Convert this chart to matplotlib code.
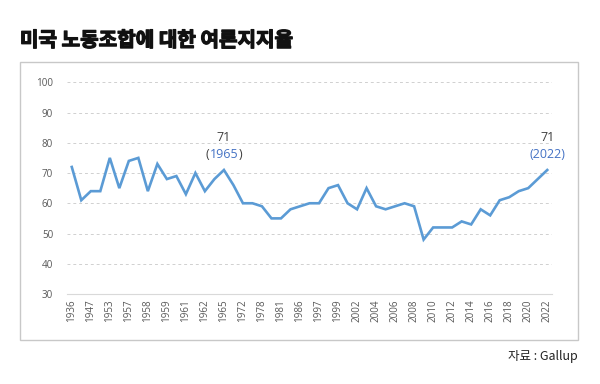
import matplotlib
matplotlib.use('Agg')

import matplotlib.pyplot as plt
import matplotlib.patheffects as pe
from matplotlib.patches import Rectangle

plt.rcParams['font.family'] = ['Noto Sans CJK KR', 'DejaVu Sans']

######################################################################
## DATA (Gallup, approval of labor unions)

# only every other year is labelled on the axis
years = [1936, 1941, 1947, 1949, 1953, 1957, 1957, 1957, 1958, 1959,
         1959, 1961, 1961, 1962, 1962, 1963, 1965, 1967, 1972, 1973,
         1978, 1979, 1981, 1985, 1986, 1991, 1997, 1999, 1999, 2001,
         2002, 2003, 2004, 2005, 2006, 2007, 2008, 2009, 2010, 2011,
         2012, 2013, 2014, 2015, 2016, 2017, 2018, 2019, 2020, 2021,
         2022]
approval = [72, 61, 64, 64, 75, 65, 74, 75, 64, 73,
            68, 69, 63, 70, 64, 68, 71, 66, 60, 60,
            59, 55, 55, 58, 59, 60, 60, 65, 66, 60,
            58, 65, 59, 58, 59, 60, 59, 48, 52, 52,
            52, 54, 53, 58, 56, 61, 62, 64, 65, 68,
            71]
yticks = [30, 40, 50, 60, 70, 80, 90, 100]

blue = '#5B9BD5'
label_blue = '#4472C4'
grey = '#595959'

######################################################################

fig = plt.figure(figsize=(6.0, 3.84), dpi=100)

# outer frame
fig.patches.append(Rectangle((0.0333, 0.1146), 0.93, 0.7239,
                             transform=fig.transFigure, fill=False,
                             edgecolor='#c8c8c8', linewidth=1.0))

ax = fig.add_axes([0.1117, 0.2344, 0.8083, 0.5513])

pos = list(range(len(years)))
ax.plot(pos, approval, color=blue, linewidth=1.9, solid_joinstyle='miter')

ax.set_xlim(-0.5, len(years) - 0.5)
ax.set_ylim(30, 100)
ax.set_yticks(yticks)
ax.set_xticks(pos[::2])
ax.set_xticklabels([str(y) for y in years[::2]], rotation=90)

for lab in ax.get_xticklabels() + ax.get_yticklabels():
    lab.set_family('Open Sans')
    lab.set_fontsize(7.1)
    lab.set_color(grey)

ax.tick_params(axis='both', length=0)
ax.tick_params(axis='x', pad=4)
ax.tick_params(axis='y', pad=10)

ax.grid(True, axis='y', linestyle=(0, (3, 3)), color='#d0d0d0', linewidth=0.7)
for s in ['top', 'right', 'left']:
    ax.spines[s].set_visible(False)
ax.spines['bottom'].set_color('#d9d9d9')
ax.spines['bottom'].set_linewidth(0.8)
ax.set_axisbelow(True)

# annotations
i1 = years.index(1965)
i2 = len(years) - 1
fs = 9
dark = '#404040'
ax.annotate(str(approval[i1]), (i1, approval[i1]), xytext=(0, 19),
            textcoords='offset points', ha='center', va='bottom',
            fontsize=fs, color=dark, family='Open Sans')
t = ax.annotate(str(years[i1]), (i1, approval[i1]), xytext=(0, 6.5),
                textcoords='offset points', ha='center', va='bottom',
                fontsize=fs, color=label_blue, family='Open Sans')
ax.annotate('(', xy=(0, 0), xycoords=t, ha='right', va='bottom',
            fontsize=fs, color=dark, family='Open Sans')
ax.annotate(')', xy=(1, 0), xycoords=t, ha='left', va='bottom',
            fontsize=fs, color=dark, family='Open Sans')

ax.annotate(str(approval[i2]), (i2, approval[i2]), xytext=(0, 19),
            textcoords='offset points', ha='center', va='bottom',
            fontsize=fs, color=dark, family='Open Sans')
ax.annotate('(%d)' % years[i2], (i2, approval[i2]), xytext=(0, 6.5),
            textcoords='offset points', ha='center', va='bottom',
            fontsize=fs, color=label_blue, family='Open Sans')

# title and source
fig.text(0.0333, 0.896, '미국 노동조합에 대한 여론지지율', ha='left', va='center',
         fontsize=14.5, fontweight='black', color='#111111',
         path_effects=[pe.withStroke(linewidth=0.9, foreground='#111111')])
fig.text(0.963, 0.072, '자료 : Gallup', ha='right', va='center',
         fontsize=9, color='#222222')

plt.savefig('out.png', dpi=100)
